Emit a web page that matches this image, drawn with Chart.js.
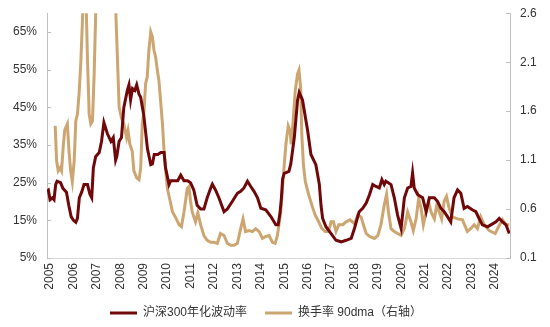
<!DOCTYPE html>
<html>
<head>
<meta charset="utf-8">
<script src="https://cdn.jsdelivr.net/npm/chart.js@4/dist/chart.umd.min.js"></script>
<style>
  html, body { margin: 0; padding: 0; background: #fff; }
  #wrap { width: 550px; height: 327px; }
</style>
</head>
<body>
<div id="wrap"><canvas id="chart"></canvas></div>
<script>
const years = [2005, 2006, 2007, 2008, 2009, 2010, 2011, 2012, 2013, 2014,
  2015, 2016, 2017, 2018, 2019, 2020, 2021, 2022, 2023, 2024];
const leftTicks = [5, 15, 25, 35, 45, 55, 65];
const rightTicks = [0.1, 0.6, 1.1, 1.6, 2.1, 2.6];

// 沪深300年化波动率 (%), dates as decimal years
const volDates = [2004.88, 2004.93, 2005.0, 2005.1, 2005.17, 2005.24, 2005.3, 2005.45, 2005.55, 2005.7,
  2005.8, 2005.9, 2006.0, 2006.1, 2006.17, 2006.25, 2006.35, 2006.45, 2006.6, 2006.7,
  2006.78, 2006.85, 2006.95, 2007.1, 2007.2, 2007.3, 2007.45, 2007.6, 2007.7, 2007.8,
  2007.85, 2007.95, 2008.05, 2008.15, 2008.3, 2008.37, 2008.44, 2008.52, 2008.62, 2008.7,
  2008.8, 2008.87, 2009.0, 2009.16, 2009.3, 2009.37, 2009.45, 2009.6, 2009.73, 2009.87,
  2009.93, 2010.08, 2010.15, 2010.3, 2010.45, 2010.58, 2010.72, 2010.87, 2011.0, 2011.14,
  2011.28, 2011.43, 2011.57, 2011.71, 2011.86, 2011.93, 2012.07, 2012.21, 2012.43, 2012.57,
  2012.78, 2013.0, 2013.14, 2013.28, 2013.43, 2013.57, 2013.71, 2013.86, 2014.0, 2014.21,
  2014.43, 2014.64, 2014.74, 2014.82, 2014.88, 2014.93, 2015.0, 2015.2, 2015.28, 2015.43,
  2015.57, 2015.64, 2015.78, 2015.93, 2016.0, 2016.14, 2016.35, 2016.5, 2016.57, 2016.64,
  2016.78, 2017.0, 2017.21, 2017.43, 2017.64, 2017.86, 2018.0, 2018.2, 2018.35, 2018.5,
  2018.64, 2018.78, 2018.92, 2019.06, 2019.17, 2019.27, 2019.34, 2019.56, 2019.7, 2019.84,
  2019.99, 2020.13, 2020.27, 2020.41, 2020.48, 2020.55, 2020.7, 2020.91, 2021.06, 2021.2,
  2021.41, 2021.55, 2021.69, 2021.83, 2021.97, 2022.11, 2022.25, 2022.4, 2022.54, 2022.68,
  2022.82, 2023.03, 2023.18, 2023.32, 2023.46, 2023.68, 2023.82, 2024.04, 2024.18, 2024.32,
  2024.47, 2024.61];
const volValues = [22.7, 23, 20.5, 21, 20.5, 24.5, 25.4, 25, 23.5, 22.5,
  19, 16, 15, 14.5, 15.5, 21, 22.5, 24.5, 24.5, 22,
  21, 29, 32, 33, 36, 41, 38, 36, 37, 31,
  32, 36, 37, 45, 49.5, 51, 47, 50, 49.5, 51,
  48.5, 47.7, 43, 34, 29.8, 30, 32.5, 32.5, 33, 33,
  29, 24.5, 25.5, 25.5, 25.5, 27, 25.5, 25.5, 25, 23,
  19, 18, 18, 21, 23.6, 24.6, 23, 21, 17.3, 18,
  20, 22.2, 22.7, 23.6, 25.4, 24, 22.7, 21, 18.2, 17.8,
  16, 13.8, 13.8, 17, 21, 26, 27.5, 28, 30, 37,
  47, 49, 47, 41.4, 38.8, 32.5, 29.8, 24.5, 19, 15.5,
  13.3, 11.5, 9.7, 9.3, 9.7, 10.2, 12.9, 17.3, 18.2, 19.6,
  21.8, 24.5, 24, 23.6, 25.8, 24.5, 25.4, 24.5, 21, 16.4,
  12.9, 21, 23.6, 24, 27.6, 23.6, 21.8, 21, 17.3, 21,
  21, 20, 18.2, 17.3, 16, 14.6, 21, 23.1, 22.2, 18.2,
  18.7, 17.8, 17.3, 15.5, 13.8, 13.3, 13.8, 14.6, 15.5, 14.6,
  13.8, 11.5];

// 换手率 90dma (right axis)
const turnDates = [2005.22, 2005.28, 2005.35, 2005.43, 2005.49, 2005.57, 2005.63, 2005.74, 2005.81, 2005.88,
  2005.95, 2006.03, 2006.1, 2006.17, 2006.24, 2006.31, 2006.38, 2006.45, 2006.52, 2006.6,
  2006.67, 2006.74, 2006.81, 2006.88, 2006.95, 2007.05, 2007.3, 2007.5, 2007.7, 2007.81,
  2007.88, 2007.95, 2008.05, 2008.15, 2008.27, 2008.33, 2008.41, 2008.51, 2008.58, 2008.7,
  2008.8, 2008.87, 2008.94, 2009.01, 2009.08, 2009.15, 2009.22, 2009.3, 2009.37, 2009.44,
  2009.51, 2009.58, 2009.65, 2009.72, 2009.8, 2009.87, 2009.94, 2010.01, 2010.13, 2010.23,
  2010.37, 2010.51, 2010.61, 2010.72, 2010.86, 2010.93, 2011.0, 2011.07, 2011.21, 2011.31,
  2011.43, 2011.57, 2011.71, 2011.86, 2012.0, 2012.14, 2012.28, 2012.43, 2012.57, 2012.71,
  2012.86, 2013.0, 2013.14, 2013.24, 2013.35, 2013.5, 2013.64, 2013.78, 2013.93, 2014.07,
  2014.21, 2014.35, 2014.5, 2014.61, 2014.71, 2014.85, 2014.98, 2015.07, 2015.17, 2015.25,
  2015.3, 2015.38, 2015.47, 2015.57, 2015.63, 2015.7, 2015.75, 2015.82, 2015.9, 2016.04,
  2016.18, 2016.32, 2016.47, 2016.61, 2016.75, 2016.89, 2017.0, 2017.1, 2017.21, 2017.33,
  2017.5, 2017.64, 2017.81, 2018.0, 2018.14, 2018.28, 2018.38, 2018.5, 2018.64, 2018.85,
  2019.0, 2019.13, 2019.27, 2019.37, 2019.45, 2019.56, 2019.7, 2019.84, 2019.99, 2020.13,
  2020.27, 2020.41, 2020.51, 2020.63, 2020.74, 2020.84, 2020.94, 2021.06, 2021.16, 2021.27,
  2021.41, 2021.51, 2021.62, 2021.72, 2021.83, 2021.93, 2022.04, 2022.18, 2022.4, 2022.61,
  2022.82, 2022.96, 2023.11, 2023.25, 2023.39, 2023.54, 2023.75, 2024.01, 2024.15, 2024.32,
  2024.47, 2024.61];
const turnValues = [1.45, 1.09, 0.99, 1.02, 0.99, 1.26, 1.41, 1.47, 1.19, 0.99,
  0.88, 1.09, 1.5, 1.57, 1.78, 2.08, 2.5, 3.0, 2.9, 2.12,
  1.57, 1.47, 1.5, 1.95, 2.6, 3.4, 4.2, 3.6, 3.0, 2.6,
  2.12, 1.64, 1.53, 1.47, 1.33, 1.4, 1.26, 1.19, 0.99, 0.92,
  0.9, 1.02, 1.47, 1.6, 1.88, 1.95, 2.22, 2.41, 2.36, 2.22,
  2.15, 2.02, 1.91, 1.71, 1.47, 1.19, 0.99, 0.81, 0.68, 0.57,
  0.51, 0.44, 0.42, 0.57, 0.81, 0.83, 0.68, 0.57, 0.47, 0.56,
  0.44, 0.33, 0.28, 0.26, 0.26, 0.25, 0.35, 0.33, 0.25, 0.23,
  0.23, 0.25, 0.4, 0.5, 0.37, 0.38, 0.37, 0.4, 0.37, 0.3,
  0.32, 0.33, 0.26, 0.25, 0.33, 0.57, 0.99, 1.26, 1.45, 1.4,
  1.26, 1.5, 1.81, 1.98, 2.02, 1.84, 1.36, 1.05, 0.88, 0.75,
  0.64, 0.54, 0.47, 0.4, 0.37, 0.37, 0.47, 0.47, 0.37, 0.44,
  0.44, 0.47, 0.49, 0.45, 0.54, 0.52, 0.44, 0.35, 0.32, 0.3,
  0.33, 0.44, 0.64, 0.75, 0.57, 0.4, 0.37, 0.35, 0.33, 0.4,
  0.57, 0.47, 0.38, 0.5, 0.71, 0.61, 0.44, 0.57, 0.68, 0.57,
  0.5, 0.64, 0.57, 0.5, 0.68, 0.73, 0.61, 0.52, 0.5, 0.49,
  0.37, 0.4, 0.44, 0.4, 0.52, 0.44, 0.38, 0.35, 0.42, 0.49,
  0.44, 0.44];

const RED = "rgb(112, 8, 10)";
const TAN = "rgb(205, 165, 112)";
const FONT = "'Liberation Sans', Arial, 'Noto Sans CJK SC', sans-serif";

const toPoints = (xs, ys) => xs.map((x, i) => ({ x: x, y: ys[i] }));

// inward tick marks on the two value axes
const innerTicks = {
  id: "innerTicks",
  afterDraw(chart) {
    const ctx = chart.ctx;
    ctx.save();
    ctx.strokeStyle = "#bfbfbf";
    ctx.lineWidth = 1;
    [["y", 1], ["y1", -1]].forEach(([id, dir]) => {
      const scale = chart.scales[id];
      const x0 = id === "y" ? chart.chartArea.left : chart.chartArea.right;
      scale.ticks.forEach((t) => {
        const y = Math.round(scale.getPixelForValue(t.value)) + 0.5;
        ctx.beginPath();
        ctx.moveTo(x0, y);
        ctx.lineTo(x0 + dir * 4, y);
        ctx.stroke();
      });
    });
    ctx.restore();
  },
};

// legend sits a little left of centre in the original
const legendShift = {
  id: "legendShift",
  afterLayout(chart) {
    chart.legend.left -= 9;
    chart.legend.right -= 9;
  },
};

const fitValueAxis = (width) => (axis) => {
  axis.width = width;
  axis.paddingTop = 0;
  axis.paddingBottom = 0;
};

new Chart(document.getElementById("chart"), {
  type: "line",
  data: {
    datasets: [
      {
        label: "沪深300年化波动率",
        data: toPoints(volDates, volValues),
        yAxisID: "y",
        borderColor: RED,
        backgroundColor: RED,
        borderWidth: 3,
        pointRadius: 0,
        tension: 0,
      },
      {
        label: "换手率 90dma（右轴）",
        data: toPoints(turnDates, turnValues),
        yAxisID: "y1",
        borderColor: TAN,
        backgroundColor: TAN,
        borderWidth: 3,
        pointRadius: 0,
        tension: 0,
      },
    ],
  },
  options: {
    responsive: true,
    maintainAspectRatio: false,
    animation: false,
    layout: { padding: { top: 13.3, left: 0, right: 0, bottom: -2 } },
    plugins: {
      tooltip: { enabled: false },
      legend: {
        position: "bottom",
        labels: {
          color: "#333",
          font: { family: FONT, size: 12 },
          boxWidth: 27,
          boxHeight: 3,
          padding: 18,
          generateLabels: (chart) =>
            chart.data.datasets.map((ds, i) => ({
              text: ds.label,
              fillStyle: ds.borderColor,
              strokeStyle: ds.borderColor,
              lineWidth: 0,
              datasetIndex: i,
              fontColor: "#333",
            })),
        },
      },
    },
    scales: {
      x: {
        type: "linear",
        min: 2004.87,
        max: 2024.64,
        grid: { display: false, drawTicks: false },
        border: { color: "#d9d9d9", width: 1 },
        afterBuildTicks: (axis) => {
          axis.ticks = years.map((v) => ({ value: v }));
        },
        afterFit: (axis) => {
          axis.height = 31;
        },
        ticks: {
          autoSkip: false,
          minRotation: 90,
          maxRotation: 90,
          padding: 5,
          color: "#333",
          font: { family: FONT, size: 12 },
          callback: (v) => String(v),
        },
      },
      y: {
        position: "left",
        min: 5,
        max: 70,
        grid: { display: false, drawTicks: false },
        border: { color: "#bfbfbf", width: 1 },
        afterBuildTicks: (axis) => {
          axis.ticks = leftTicks.map((v) => ({ value: v }));
        },
        afterFit: fitValueAxis(47),
        ticks: {
          padding: 10,
          color: "#333",
          font: { family: FONT, size: 12 },
          callback: (v) => v + "%",
        },
      },
      y1: {
        position: "right",
        min: 0.1,
        max: 2.6,
        grid: { display: false, drawTicks: false },
        border: { color: "#bfbfbf", width: 1 },
        afterBuildTicks: (axis) => {
          axis.ticks = rightTicks.map((v) => ({ value: v }));
        },
        afterFit: fitValueAxis(40),
        ticks: {
          padding: 10,
          color: "#333",
          font: { family: FONT, size: 12 },
          callback: (v) => v.toFixed(1),
        },
      },
    },
  },
  plugins: [innerTicks, legendShift],
});
</script>
</body>
</html>
